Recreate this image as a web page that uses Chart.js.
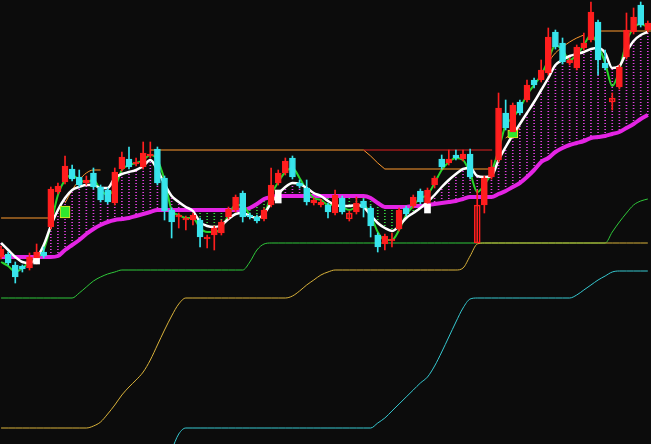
<!DOCTYPE html>
<html>
<head>
<meta charset="utf-8">
<script src="https://cdn.jsdelivr.net/npm/chart.js@4.4.1/dist/chart.umd.min.js"></script>
<style>
  html, body { margin: 0; padding: 0; background: #0c0c0c; }
  #chart { display: block; background: #0c0c0c; }
</style>
</head>
<body>
<canvas id="chart" width="651" height="444"></canvas>
<script>
// candles (one per session)
const openP = [
  18.7, 19.0, 17.9, 17.8, 17.6, 18.6, 19.2, 21.7, 25.2, 26.2,
  27.5, 26.7, 26.1, 27.1, 25.7, 25.4, 24.1, 27.5, 28.5, 28.0,
  27.7, 28.8, 29.5, 26.6, 23.4, 22.7, 22.4, 22.4, 22.4, 20.5,
  20.9, 21.1, 22.7, 23.4, 25.1, 22.9, 22.7, 22.5, 23.9, 26.1,
  27.1, 28.6, 26.1, 25.6, 24.1, 23.9, 23.9, 23.1, 24.6, 22.5,
  23.2, 24.3, 23.6, 20.9, 20.0, 20.3, 21.5, 23.6, 23.8, 25.3,
  24.1, 25.9, 28.5, 28.1, 28.9, 28.5, 29.0, 20.1, 23.9, 26.7,
  28.4, 33.1, 31.2, 34.2, 34.4, 36.4, 36.4, 37.1, 41.2, 40.1,
  38.1, 37.6, 39.6, 40.4, 42.2, 38.1, 34.2, 35.7, 38.7, 41.2,
  43.9, 41.4
];
const closeP = [
  19.5, 18.1, 16.7, 17.5, 18.7, 19.2, 18.8, 25.5, 25.8, 27.8,
  26.5, 25.9, 26.4, 25.7, 24.4, 24.2, 27.2, 28.7, 27.7, 28.2,
  29.1, 29.0, 26.1, 23.3, 22.2, 22.9, 22.6, 22.9, 20.7, 20.7,
  21.6, 22.2, 23.5, 24.7, 22.7, 22.7, 22.3, 23.4, 25.9, 27.1,
  28.3, 26.7, 25.8, 24.2, 24.4, 24.2, 23.2, 24.9, 23.2, 23.1,
  24.1, 23.6, 21.8, 19.7, 20.8, 20.5, 23.4, 23.0, 24.7, 24.2,
  25.4, 26.6, 27.7, 28.5, 28.6, 29.0, 26.7, 23.9, 26.6, 27.7,
  33.6, 31.6, 33.9, 33.1, 35.9, 35.9, 37.4, 40.7, 39.7, 38.2,
  38.4, 39.7, 40.1, 43.2, 38.4, 37.6, 34.6, 37.7, 41.4, 42.7,
  41.9, 42.1
];
const highP = [
  19.8, 19.2, 18.2, 17.9, 19.1, 20.0, 19.7, 25.7, 26.1, 28.8,
  27.9, 27.4, 26.8, 27.6, 25.9, 25.6, 27.6, 29.2, 29.7, 28.6,
  30.2, 30.2, 29.7, 26.8, 23.6, 23.1, 22.8, 23.1, 22.6, 20.9,
  21.8, 22.4, 23.7, 24.9, 25.3, 23.1, 22.9, 23.6, 27.6, 27.4,
  28.6, 28.8, 26.4, 26.4, 24.6, 24.5, 24.1, 25.4, 24.8, 23.3,
  24.7, 24.5, 23.8, 21.1, 21.0, 21.1, 23.6, 23.8, 24.9, 25.5,
  25.6, 26.8, 28.9, 29.4, 29.4, 29.4, 29.5, 25.4, 26.8, 28.4,
  35.1, 34.4, 34.1, 34.4, 36.4, 36.6, 38.4, 41.6, 41.4, 40.6,
  38.6, 39.9, 41.1, 44.2, 42.4, 39.4, 35.1, 37.9, 43.1, 43.6,
  44.2, 42.3
];
const lowP = [
  18.5, 17.9, 16.1, 17.2, 17.4, 18.0, 18.6, 21.5, 25.0, 26.0,
  26.3, 25.7, 25.9, 25.5, 24.2, 24.0, 23.9, 27.3, 27.5, 27.8,
  27.5, 28.6, 25.9, 22.4, 20.6, 21.6, 21.4, 21.9, 19.7, 19.6,
  19.4, 20.9, 22.5, 23.2, 22.2, 22.5, 22.1, 22.3, 23.7, 25.9,
  26.9, 26.5, 25.6, 23.9, 23.9, 23.7, 22.6, 22.9, 23.0, 22.3,
  23.0, 22.7, 20.7, 19.2, 19.4, 19.7, 21.3, 22.8, 23.6, 24.0,
  23.9, 25.6, 27.5, 27.9, 28.4, 28.3, 26.5, 20.1, 23.1, 26.5,
  28.2, 31.4, 31.0, 32.9, 34.2, 35.6, 36.2, 36.9, 39.5, 38.0,
  37.9, 37.4, 39.4, 40.2, 36.9, 37.4, 33.4, 35.5, 38.5, 41.0,
  41.7, 41.2
];
const hollowIdx = [26, 29, 49, 67, 86];

// moving averages
const maShort = [
  20.1, 19.4, 18.7, 18.2, 18.1, 18.6, 19.9, 21.8, 23.4, 24.6,
  25.4, 25.7, 25.9, 25.9, 25.6, 25.6, 26.6, 27.0, 27.2, 27.4,
  27.8, 28.4, 27.4, 26.0, 24.8, 24.2, 23.7, 23.3, 22.2, 21.8,
  21.7, 21.9, 22.5, 23.0, 23.1, 22.8, 22.6, 23.0, 24.1, 25.0,
  25.7, 26.1, 26.0, 25.6, 25.1, 24.8, 24.3, 23.9, 23.8, 23.8,
  23.9, 23.7, 22.9, 22.1, 21.6, 21.3, 21.8, 22.6, 23.1, 23.6,
  24.2, 24.9, 25.7, 26.4, 27.0, 27.5, 27.6, 26.8, 26.7, 26.8,
  28.4, 29.7, 30.9, 32.0, 33.1, 34.2, 35.4, 36.6, 37.9, 38.4,
  38.8, 39.0, 39.2, 39.5, 39.6, 39.1, 37.6, 37.8, 39.2, 40.3,
  40.9, 41.2
];
const maMid = [
  18.2, 17.8, 17.2, 17.6, 18.2, 18.6, 19.4, 21.9, 24.9, 26.4,
  26.9, 26.4, 26.2, 26.4, 25.4, 24.9, 25.6, 27.4, 27.9, 28.1,
  28.4, 28.9, 28.4, 26.4, 23.4, 22.9, 22.6, 22.6, 21.6, 21.2,
  21.2, 21.6, 22.9, 23.9, 23.9, 22.9, 22.6, 22.9, 24.9, 26.2,
  27.2, 27.6, 26.6, 25.4, 24.6, 24.4, 23.9, 23.9, 23.7, 23.4,
  23.7, 23.9, 22.9, 21.2, 20.4, 20.4, 21.4, 22.9, 23.8, 24.6,
  24.9, 26.1, 27.4, 28.2, 28.6, 28.4, 27.1, 25.2, 25.9, 27.2,
  29.4, 31.9, 32.6, 33.6, 34.9, 35.9, 36.9, 38.4, 39.9, 39.4,
  38.4, 38.9, 39.9, 40.9, 39.9, 38.1, 35.8, 37.4, 40.2, 41.6,
  42.0, 41.7
];
const maLong = [
  18.7, 18.7, 18.7, 18.7, 18.7, 18.7, 18.7, 18.7, 18.8, 19.4,
  19.9, 20.4, 21.0, 21.5, 21.9, 22.2, 22.4, 22.5, 22.6, 22.8,
  23.0, 23.2, 23.4, 23.4, 23.4, 23.4, 23.4, 23.4, 23.4, 23.4,
  23.4, 23.4, 23.4, 23.4, 23.4, 23.6, 24.0, 24.5, 24.7, 24.8,
  24.8, 24.8, 24.8, 24.8, 24.8, 24.8, 24.8, 24.8, 24.8, 24.8,
  24.8, 24.8, 24.6, 24.1, 23.7, 23.7, 23.7, 23.7, 23.8, 23.8,
  23.9, 24.0, 24.1, 24.2, 24.3, 24.5, 24.7, 24.7, 24.7, 24.7,
  25.0, 25.3, 25.7, 26.1, 26.7, 27.4, 28.2, 28.6, 29.2, 29.6,
  29.9, 30.1, 30.3, 30.6, 30.7, 30.8, 31.0, 31.2, 31.6, 32.0,
  32.5, 32.9
];
// short orange average, visible only in pieces: [index, value], null = gap
const maFast = [
  [9, 24.1], [10, 25.4], [11, 26.4], [12, 27.1], [13, 27.4], [14, 27.4], null,
  [71, 30.6], [72, 31.1], [73, 31.6], null,
  [77, 38.2], [78, 39.1], [79, 39.7], [80, 40.2], [81, 40.6], [82, 40.9]
];

// support / resistance levels
const levelOrange = [
  [0, 22.6], [7, 22.6], null,
  [21, 29.4], [51, 29.4], [52, 28.8], [53, 28.1], [54, 27.5], [69.1, 27.5], null,
  [84, 41.3], [91.5, 41.3]
];
const levelRed = [[51, 29.4], [69.1, 29.4]];

// lower bands
const bandGreen = [
  14.6, 14.6, 14.6, 14.6, 14.6, 14.6, 14.6, 14.6, 14.6, 14.6,
  14.6, 15.1, 15.7, 16.3, 16.7, 17.0, 17.2, 17.4, 17.4, 17.4,
  17.4, 17.4, 17.4, 17.4, 17.4, 17.4, 17.4, 17.4, 17.4, 17.4,
  17.4, 17.4, 17.4, 17.4, 17.4, 18.2, 19.4, 20.0, 20.1, 20.1,
  20.1, 20.1, 20.1, 20.1, 20.1, 20.1, 20.1, 20.1, 20.1, 20.1,
  20.1, 20.1, 20.1, 20.1, 20.1, 20.1, 20.1, 20.1, 20.1, 20.1,
  20.1, 20.1, 20.1, 20.1, 20.1, 20.1, 20.1, 20.1, 20.1, 20.1,
  20.1, 20.1, 20.1, 20.1, 20.1, 20.1, 20.1, 20.1, 20.1, 20.1,
  20.1, 20.1, 20.1, 20.1, 20.1, 20.1, 21.2, 22.2, 23.1, 23.9,
  24.3, 24.5
];
const bandYellow = [
  1.6, 1.6, 1.6, 1.6, 1.6, 1.6, 1.6, 1.6, 1.6, 1.6,
  1.6, 1.6, 1.6, 1.8, 2.2, 3.0, 3.9, 4.9, 5.7, 6.4,
  7.2, 8.4, 9.9, 11.4, 12.8, 14.0, 14.6, 14.6, 14.6, 14.6,
  14.6, 14.6, 14.6, 14.6, 14.6, 14.6, 14.6, 14.6, 14.6, 14.6,
  14.6, 14.8, 15.3, 15.9, 16.4, 16.9, 17.2, 17.4, 17.4, 17.4,
  17.4, 17.4, 17.4, 17.4, 17.4, 17.4, 17.4, 17.4, 17.4, 17.4,
  17.4, 17.4, 17.4, 17.4, 17.4, 17.6, 18.8, 20.0, 20.1, 20.1,
  20.1, 20.1, 20.1, 20.1, 20.1, 20.1, 20.1, 20.1, 20.1, 20.1,
  20.1, 20.1, 20.1, 20.1, 20.1, 20.1, 20.1, 20.1, 20.1, 20.1,
  20.1, 20.1
];
const bandCyan = [
  null, null, null, null, null, null, null, null, null, null,
  null, null, null, null, null, null, null, null, null, null,
  null, null, null, null, -0.6, 1.0, 1.6, 1.6, 1.6, 1.6,
  1.6, 1.6, 1.6, 1.6, 1.6, 1.6, 1.6, 1.6, 1.6, 1.6,
  1.6, 1.6, 1.6, 1.6, 1.6, 1.6, 1.6, 1.6, 1.6, 1.6,
  1.6, 1.6, 1.6, 2.1, 2.6, 3.3, 4.0, 4.7, 5.4, 6.1,
  6.7, 7.8, 9.2, 10.7, 12.2, 13.6, 14.5, 14.6, 14.6, 14.6,
  14.6, 14.6, 14.6, 14.6, 14.6, 14.6, 14.6, 14.6, 14.6, 14.6,
  14.6, 14.9, 15.4, 15.9, 16.4, 16.8, 17.2, 17.3, 17.3, 17.3,
  17.3, 17.3
];

// signal boxes
const whiteBoxIdx = [5, 39, 60];
const whiteBoxLo = [18.0, 24.1, 23.1];
const whiteBoxHi = [18.6, 25.4, 24.0];
const limeBoxIdx = [9, 72];
const limeBoxLo = [22.6, 30.6];
const limeBoxHi = [23.8, 31.4];

const RED = '#ff1e1e';
const CYAN = '#38e4ec';

const canvas = document.getElementById('chart');
const ctx = canvas.getContext('2d');

// dotted fill for the vertical hatch between the two averages
function dotted(color) {
  const c = document.createElement('canvas');
  c.width = 1; c.height = 3;
  const g = c.getContext('2d');
  g.fillStyle = color;
  g.fillRect(0, 0, 1, 1);
  return ctx.createPattern(c, 'repeat');
}
const hatchUp = dotted('#e040e0');
const hatchDown = dotted('#34d83e');

const idx = openP.map((_, i) => i);
const candleColor = idx.map(i => closeP[i] >= openP[i] ? RED : CYAN);

const series = arr => idx.map(i => ({ x: i, y: arr[i] }));
function pieces(list) {
  const pts = [];
  list.forEach((p, k) => {
    if (p === null) pts.push({ x: list[k - 1][0] + 0.5, y: null });
    else pts.push({ x: p[0], y: p[1] });
  });
  return pts;
}
const line = (data, color, width, order, extra) => Object.assign({
  type: 'line', data, borderColor: color, borderWidth: width, pointRadius: 0,
  cubicInterpolationMode: 'monotone', spanGaps: false, order
}, extra || {});

const datasets = [
  { type: 'bar', label: 'body', order: 1, grouped: false, barThickness: 6,
    data: idx.map(i => ({ x: i, y: [openP[i], closeP[i]] })),
    backgroundColor: idx.map(i => hollowIdx.includes(i) ? 'rgba(0,0,0,0)' : candleColor[i]),
    borderColor: candleColor, borderWidth: 1, borderSkipped: false },
  { type: 'bar', label: 'wick', order: 3, grouped: false, barThickness: 1,
    data: idx.map(i => ({ x: i, y: [lowP[i], highP[i]] })),
    backgroundColor: candleColor },
  { type: 'bar', label: 'white box', order: 2, grouped: false, barThickness: 6,
    data: whiteBoxIdx.map((x, k) => ({ x, y: [whiteBoxLo[k], whiteBoxHi[k]] })),
    backgroundColor: '#ffffff' },
  { type: 'bar', label: 'lime box', order: 2, grouped: false, barThickness: 10,
    data: limeBoxIdx.map((x, k) => ({ x, y: [limeBoxLo[k], limeBoxHi[k]] })),
    backgroundColor: '#2ee82e', borderColor: '#f0e020', borderWidth: 1, borderSkipped: false },
  line(series(maShort), '#ffffff', 2.5, 4),
  line(pieces(maFast), '#ff9a2e', 1, 5),
  line(pieces(levelRed), '#e02020', 1, 6, { cubicInterpolationMode: 'default', tension: 0 }),
  line(pieces(levelOrange), '#ff9a2e', 1, 7, { cubicInterpolationMode: 'default', tension: 0 }),
  line(series(maMid), '#2ad42a', 2, 8),
  line(series(maLong), '#e424e4', 4, 9),
  { type: 'bar', label: 'hatch', order: 10, grouped: false, barThickness: 1,
    data: idx.map(i => ({ x: i, y: [maShort[i], maLong[i]] })),
    backgroundColor: idx.map(i => maShort[i] >= maLong[i] ? hatchUp : hatchDown) },
  line(series(bandYellow), '#d9b23a', 1, 11),
  line(series(bandGreen), '#2fc83a', 1, 12),
  line(series(bandCyan), '#36c8d0', 1, 13)
];

new Chart(ctx, {
  type: 'bar',
  data: { datasets },
  options: {
    responsive: false,
    animation: false,
    layout: { padding: 0 },
    plugins: { legend: { display: false }, tooltip: { enabled: false } },
    scales: {
      x: { type: 'linear', min: -0.15, max: 91.45, offset: false, display: false },
      y: { min: 0, max: 44.4, display: false }
    }
  }
});
</script>
</body>
</html>
